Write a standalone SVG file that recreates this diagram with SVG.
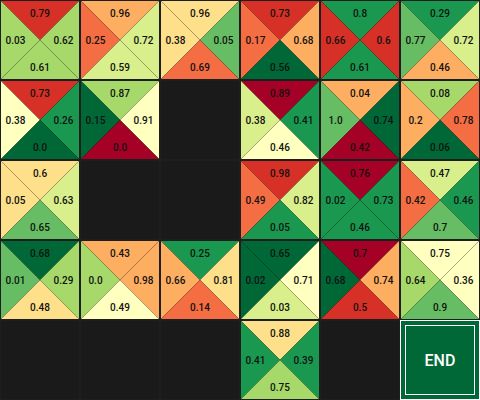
<svg xmlns="http://www.w3.org/2000/svg" xmlns:xlink="http://www.w3.org/1999/xlink" width="480" height="400" viewBox="0 0 480 400">
<style>
.A{fill:#a50026}.R{fill:#d73027}.O{fill:#f46d43}.o{fill:#fdae61}.Y{fill:#fee08b}.P{fill:#ffffbf}
.L{fill:#d9ef8b}.G1{fill:#a6d96a}.G2{fill:#66bd63}.G3{fill:#1a9850}.D{fill:#006837}
use{stroke:rgba(0,0,0,0.18);stroke-width:0.6}
text.v{font-family:Roboto,"Liberation Sans",sans-serif;font-size:10px;font-weight:500;fill:#111;text-anchor:middle}
.grid line{stroke:#1e1e1e;stroke-width:2}
</style>
<defs>
<path id="tT" d="M0,0H80L40,40Z"/>
<path id="tL" d="M0,0V80L40,40Z"/>
<path id="tR" d="M80,0V80L40,40Z"/>
<path id="tB" d="M0,80H80L40,40Z"/>
</defs>
<rect width="480" height="400" fill="#1a1a1a"/>
<g id="cells">
<g id="c0-0" transform="translate(0,0)"><use href="#tT" class="R"/><use href="#tL" class="G1"/><use href="#tR" class="G1"/><use href="#tB" class="G1"/><text class="v" x="40" y="17">0.79</text><text class="v" x="15.5" y="44">0.03</text><text class="v" x="63.5" y="44">0.62</text><text class="v" x="40" y="71">0.61</text></g>
<g id="c1-0" transform="translate(80,0)"><use href="#tT" class="o"/><use href="#tL" class="O"/><use href="#tR" class="L"/><use href="#tB" class="L"/><text class="v" x="40" y="17">0.96</text><text class="v" x="15.5" y="44">0.25</text><text class="v" x="63.5" y="44">0.72</text><text class="v" x="40" y="71">0.59</text></g>
<g id="c2-0" transform="translate(160,0)"><use href="#tT" class="Y"/><use href="#tL" class="Y"/><use href="#tR" class="G2"/><use href="#tB" class="O"/><text class="v" x="40" y="17">0.96</text><text class="v" x="15.5" y="44">0.38</text><text class="v" x="63.5" y="44">0.05</text><text class="v" x="40" y="71">0.69</text></g>
<g id="c3-0" transform="translate(240,0)"><use href="#tT" class="R"/><use href="#tL" class="O"/><use href="#tR" class="o"/><use href="#tB" class="D"/><text class="v" x="40" y="17">0.73</text><text class="v" x="15.5" y="44">0.17</text><text class="v" x="63.5" y="44">0.68</text><text class="v" x="40" y="71">0.56</text></g>
<g id="c4-0" transform="translate(320,0)"><use href="#tT" class="G3"/><use href="#tL" class="R"/><use href="#tR" class="R"/><use href="#tB" class="G3"/><text class="v" x="40" y="17">0.8</text><text class="v" x="15.5" y="44">0.66</text><text class="v" x="63.5" y="44">0.6</text><text class="v" x="40" y="71">0.61</text></g>
<g id="c5-0" transform="translate(400,0)"><use href="#tT" class="G3"/><use href="#tL" class="G2"/><use href="#tR" class="L"/><use href="#tB" class="o"/><text class="v" x="40" y="17">0.29</text><text class="v" x="15.5" y="44">0.77</text><text class="v" x="63.5" y="44">0.72</text><text class="v" x="40" y="71">0.46</text></g>

<g id="c0-1" transform="translate(0,80)"><use href="#tT" class="R"/><use href="#tL" class="P"/><use href="#tR" class="G3"/><use href="#tB" class="D"/><text class="v" x="40" y="17">0.73</text><text class="v" x="15.5" y="44">0.38</text><text class="v" x="63.5" y="44">0.26</text><text class="v" x="40" y="71">0.0</text></g>
<g id="c1-1" transform="translate(80,80)"><use href="#tT" class="G1"/><use href="#tL" class="D"/><use href="#tR" class="P"/><use href="#tB" class="A"/><text class="v" x="40" y="17">0.87</text><text class="v" x="15.5" y="44">0.15</text><text class="v" x="63.5" y="44">0.91</text><text class="v" x="40" y="71">0.0</text></g>
<g id="c3-1" transform="translate(240,80)"><use href="#tT" class="A"/><use href="#tL" class="L"/><use href="#tR" class="G3"/><use href="#tB" class="P"/><text class="v" x="40" y="17">0.89</text><text class="v" x="15.5" y="44">0.38</text><text class="v" x="63.5" y="44">0.41</text><text class="v" x="40" y="71">0.46</text></g>
<g id="c4-1" transform="translate(320,80)"><use href="#tT" class="o"/><use href="#tL" class="G2"/><use href="#tR" class="D"/><use href="#tB" class="A"/><text class="v" x="40" y="17">0.04</text><text class="v" x="15.5" y="44">1.0</text><text class="v" x="63.5" y="44">0.74</text><text class="v" x="40" y="71">0.42</text></g>
<g id="c5-1" transform="translate(400,80)"><use href="#tT" class="G1"/><use href="#tL" class="o"/><use href="#tR" class="O"/><use href="#tB" class="D"/><text class="v" x="40" y="17">0.08</text><text class="v" x="15.5" y="44">0.2</text><text class="v" x="63.5" y="44">0.78</text><text class="v" x="40" y="71">0.06</text></g>

<g id="c0-2" transform="translate(0,160)"><use href="#tT" class="Y"/><use href="#tL" class="Y"/><use href="#tR" class="L"/><use href="#tB" class="G2"/><text class="v" x="40" y="17">0.6</text><text class="v" x="15.5" y="44">0.05</text><text class="v" x="63.5" y="44">0.63</text><text class="v" x="40" y="71">0.65</text></g>
<g id="c3-2" transform="translate(240,160)"><use href="#tT" class="R"/><use href="#tL" class="O"/><use href="#tR" class="L"/><use href="#tB" class="G3"/><text class="v" x="40" y="17">0.98</text><text class="v" x="15.5" y="44">0.49</text><text class="v" x="63.5" y="44">0.82</text><text class="v" x="40" y="71">0.05</text></g>
<g id="c4-2" transform="translate(320,160)"><use href="#tT" class="A"/><use href="#tL" class="G3"/><use href="#tR" class="G3"/><use href="#tB" class="G3"/><text class="v" x="40" y="17">0.76</text><text class="v" x="15.5" y="44">0.02</text><text class="v" x="63.5" y="44">0.73</text><text class="v" x="40" y="71">0.46</text></g>
<g id="c5-2" transform="translate(400,160)"><use href="#tT" class="L"/><use href="#tL" class="O"/><use href="#tR" class="G3"/><use href="#tB" class="G2"/><text class="v" x="40" y="17">0.47</text><text class="v" x="15.5" y="44">0.42</text><text class="v" x="63.5" y="44">0.46</text><text class="v" x="40" y="71">0.7</text></g>

<g id="c0-3" transform="translate(0,240)"><use href="#tT" class="D"/><use href="#tL" class="G2"/><use href="#tR" class="G1"/><use href="#tB" class="Y"/><text class="v" x="40" y="17">0.68</text><text class="v" x="15.5" y="44">0.01</text><text class="v" x="63.5" y="44">0.29</text><text class="v" x="40" y="71">0.48</text></g>
<g id="c1-3" transform="translate(80,240)"><use href="#tT" class="o"/><use href="#tL" class="G1"/><use href="#tR" class="o"/><use href="#tB" class="P"/><text class="v" x="40" y="17">0.43</text><text class="v" x="15.5" y="44">0.0</text><text class="v" x="63.5" y="44">0.98</text><text class="v" x="40" y="71">0.49</text></g>
<g id="c2-3" transform="translate(160,240)"><use href="#tT" class="G3"/><use href="#tL" class="o"/><use href="#tR" class="Y"/><use href="#tB" class="O"/><text class="v" x="40" y="17">0.25</text><text class="v" x="15.5" y="44">0.66</text><text class="v" x="63.5" y="44">0.81</text><text class="v" x="40" y="71">0.14</text></g>
<g id="c3-3" transform="translate(240,240)"><use href="#tT" class="D"/><use href="#tL" class="D"/><use href="#tR" class="P"/><use href="#tB" class="L"/><text class="v" x="40" y="17">0.65</text><text class="v" x="15.5" y="44">0.02</text><text class="v" x="63.5" y="44">0.71</text><text class="v" x="40" y="71">0.03</text></g>
<g id="c4-3" transform="translate(320,240)"><use href="#tT" class="A"/><use href="#tL" class="D"/><use href="#tR" class="o"/><use href="#tB" class="R"/><text class="v" x="40" y="17">0.7</text><text class="v" x="15.5" y="44">0.68</text><text class="v" x="63.5" y="44">0.74</text><text class="v" x="40" y="71">0.5</text></g>
<g id="c5-3" transform="translate(400,240)"><use href="#tT" class="P"/><use href="#tL" class="G1"/><use href="#tR" class="P"/><use href="#tB" class="G2"/><text class="v" x="40" y="17">0.75</text><text class="v" x="15.5" y="44">0.64</text><text class="v" x="63.5" y="44">0.36</text><text class="v" x="40" y="71">0.9</text></g>

<g id="c3-4" transform="translate(240,320)"><use href="#tT" class="Y"/><use href="#tL" class="G3"/><use href="#tR" class="G3"/><use href="#tB" class="G1"/><text class="v" x="40" y="17">0.88</text><text class="v" x="15.5" y="44">0.41</text><text class="v" x="63.5" y="44">0.39</text><text class="v" x="40" y="71">0.75</text></g>
</g>
<g class="grid" id="grid">
<line x1="0" y1="0" x2="0" y2="400"/><line x1="80" y1="0" x2="80" y2="400"/><line x1="160" y1="0" x2="160" y2="400"/><line x1="240" y1="0" x2="240" y2="400"/><line x1="320" y1="0" x2="320" y2="400"/><line x1="400" y1="0" x2="400" y2="400"/><line x1="480" y1="0" x2="480" y2="400"/>
<line x1="0" y1="0" x2="480" y2="0"/><line x1="0" y1="80" x2="480" y2="80"/><line x1="0" y1="160" x2="480" y2="160"/><line x1="0" y1="240" x2="480" y2="240"/><line x1="0" y1="320" x2="480" y2="320"/><line x1="0" y1="400" x2="480" y2="400"/>
</g>
<g id="end">
<rect x="400" y="320" width="80" height="80" fill="#ffffff"/>
<rect x="401" y="321" width="78" height="78" fill="#006837"/>
<rect x="405.5" y="325.5" width="69" height="69" fill="none" stroke="#ffffff" stroke-width="1"/>
<text x="440" y="366" font-family="Roboto,'Liberation Sans',sans-serif" font-size="16" font-weight="500" fill="#ffffff" text-anchor="middle">END</text>
</g>
</svg>
